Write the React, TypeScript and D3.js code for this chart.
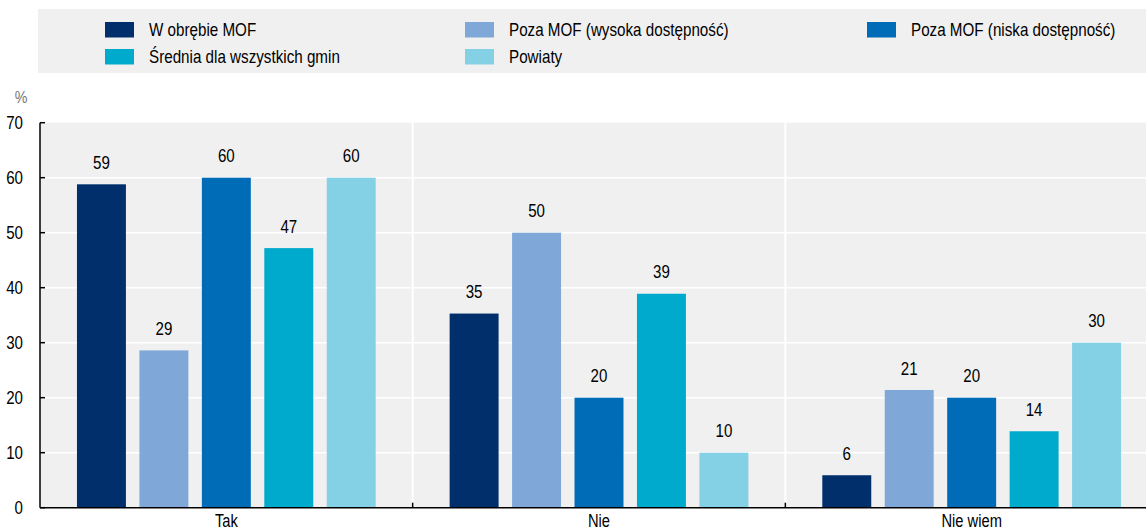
import React from "react";
import * as d3 from "d3";

const categories = ["Tak", "Nie", "Nie wiem"];
const seriesNames = [
  "W obrębie MOF",
  "Poza MOF (wysoka dostępność)",
  "Poza MOF (niska dostępność)",
  "Średnia dla wszystkich gmin",
  "Powiaty",
];
const seriesColors = ["#002F6C", "#7FA8D9", "#006BB6", "#00AACC", "#84D1E5"];
// values per series, across categories Tak / Nie / Nie wiem
const wObrebieMOF = [58.8, 35.3, 5.9];
const pozaWysoka = [28.6, 50.0, 21.4];
const pozaNiska = [60.0, 20.0, 20.0];
const srednia = [47.2, 38.9, 13.9];
const powiaty = [60.0, 10.0, 30.0];
const seriesValues = [wObrebieMOF, pozaWysoka, pozaNiska, srednia, powiaty];
const yTicks = [0, 10, 20, 30, 40, 50, 60, 70];

const W = 1146;
const H = 530;
const FONT = "'Liberation Sans', Arial, sans-serif";
const NARROW = 0.84;

function NText(props: {
  x: number;
  y: number;
  anchor?: "start" | "middle" | "end";
  size?: number;
  fill?: string;
  dy?: string;
  children: React.ReactNode;
}) {
  const { x, y, anchor = "start", size = 18, fill = "#000", dy, children } = props;
  return (
    <text
      transform={`translate(${x},${y}) scale(${NARROW},1)`}
      textAnchor={anchor}
      fontSize={size}
      fill={fill}
      dy={dy}
    >
      {children}
    </text>
  );
}

export default function App() {
  const left = 40;
  const plotRight = 1158;
  const top = 122.7;
  const bottom = 507.7;

  const x = d3.scaleBand<string>().domain(categories).range([left, plotRight]).paddingInner(0).paddingOuter(0);
  const xs = d3
    .scaleBand<string>()
    .domain(seriesNames)
    .range([0, x.bandwidth()])
    .paddingInner(0.216)
    .paddingOuter(0.592);
  const y = d3.scaleLinear().domain([0, 70]).range([bottom, top]);
  const fmt = d3.format(".0f");

  const legendCols = [105, 465, 867];
  const legendRows = [30, 57];

  return (
    <svg
      width={W}
      height={H}
      style={{ position: "fixed", left: 0, top: 0, background: "#fff" }}
      fontFamily={FONT}
    >
      {/* legend */}
      <rect x={38} y={9} width={W - 38} height={64} fill="#f0f0f0" />
      {seriesNames.map((name, i) => {
        const col = i < 3 ? i : i - 3;
        const row = i < 3 ? 0 : 1;
        const lx = legendCols[col];
        const ly = legendRows[row];
        return (
          <g key={name}>
            <rect x={lx} y={ly - 8} width={29} height={15.5} fill={seriesColors[i]} />
            <NText x={lx + 44} y={ly} dy="0.35em" size={18.1}>
              {name}
            </NText>
          </g>
        );
      })}

      {/* y unit */}
      <NText x={21} y={97} dy="0.35em" anchor="middle" size={17} fill="#777">
        %
      </NText>

      {/* plot background */}
      <rect x={left} y={top} width={W - left} height={bottom - top} fill="#f0f0f0" />
      {yTicks.slice(1, -1).map((t) => (
        <line key={t} x1={left} x2={W} y1={y(t)} y2={y(t)} stroke="#fff" strokeWidth={1.5} />
      ))}
      {categories.slice(1).map((c) => (
        <line key={c} x1={x(c)!} x2={x(c)!} y1={top} y2={bottom} stroke="#fff" strokeWidth={2} />
      ))}

      {/* bars */}
      {seriesNames.map((name, si) =>
        categories.map((c, ci) => {
          const v = seriesValues[si][ci];
          const bx = x(c)! + xs(name)!;
          return (
            <g key={name + c}>
              <rect x={bx} y={y(v)} width={xs.bandwidth()} height={bottom - y(v)} fill={seriesColors[si]} />
              <NText x={bx + xs.bandwidth() / 2} y={y(v) - 15.5} anchor="middle" size={18}>
                {fmt(v)}
              </NText>
            </g>
          );
        })
      )}

      {/* y axis */}
      <line x1={left} x2={left} y1={top} y2={bottom} stroke="#000" strokeWidth={1.5} />
      {yTicks.map((t) => (
        <g key={t}>
          <line x1={left} x2={left + 5} y1={y(t)} y2={y(t)} stroke="#000" strokeWidth={1.5} />
          <NText x={23} y={y(t)} dy="0.35em" anchor="end" size={18}>
            {t}
          </NText>
        </g>
      ))}

      {/* x axis */}
      <line x1={left} x2={W} y1={bottom} y2={bottom} stroke="#000" strokeWidth={1.5} />
      {categories.slice(1).map((c) => (
        <line key={c} x1={x(c)!} x2={x(c)!} y1={bottom - 5} y2={bottom} stroke="#000" strokeWidth={1.5} />
      ))}
      {categories.map((c) => (
        <NText key={c} x={x(c)! + x.bandwidth() / 2} y={526.5} anchor="middle" size={17.5}>
          {c}
        </NText>
      ))}
    </svg>
  );
}
